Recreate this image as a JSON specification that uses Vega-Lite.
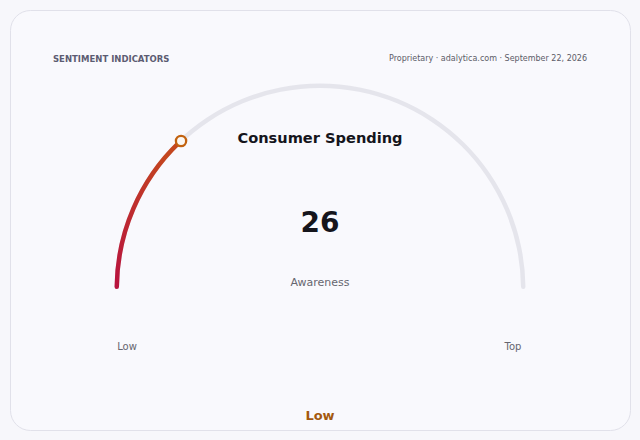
{
  "$schema": "https://vega.github.io/schema/vega-lite/v6.json",
  "width": 620,
  "height": 420,
  "padding": 10,
  "autosize": "none",
  "background": "#f7f7fb",
  "config": {
    "view": {"fill": "#f9f9fd", "stroke": "#e1e1ea", "strokeWidth": 1, "cornerRadius": 20},
    "font": "DejaVu Sans",
    "text": {"dy": 1.5}
  },
  "data": {"values": [{"value": 26, "min": 0, "max": 100, "metric": "Awareness", "name": "Consumer Spending", "band": "Low", "lowLabel": "Low", "highLabel": "Top", "section": "SENTIMENT INDICATORS", "source": "Proprietary · adalytica.com · September 22, 2026"}]},
  "resolve": {"scale": {"x": "shared", "y": "shared"}},
  "layer": [
    {
      "mark": {"type": "arc", "innerRadius": 201, "outerRadius": 205.5, "cornerRadius": 2.2, "color": "#e5e5ec"},
      "encoding": {
        "x": {"datum": 0, "type": "quantitative", "scale": {"domain": [-1.5271, 1.5271], "nice": false, "zero": false}, "axis": null},
        "y": {"datum": 0, "type": "quantitative", "scale": {"domain": [-0.6946, 1.3744], "nice": false, "zero": false}, "axis": null},
        "theta": {"field": "min", "type": "quantitative", "scale": {"domain": [0, 100], "range": [-1.5708, 1.5708]}},
        "theta2": {"field": "max"}
      }
    },
    {
      "mark": {
        "type": "arc", "innerRadius": 201, "outerRadius": 205.5, "cornerRadius": 2.2,
        "color": {"gradient": "linear", "x1": 0, "y1": 1, "x2": 0.6, "y2": 0, "stops": [{"offset": 0, "color": "#b8123f"}, {"offset": 1, "color": "#c4461f"}]}
      },
      "encoding": {
        "x": {"datum": 0, "type": "quantitative"},
        "y": {"datum": 0, "type": "quantitative"},
        "theta": {"field": "min", "type": "quantitative"},
        "theta2": {"field": "value"}
      }
    },
    {
      "transform": [
        {"calculate": "-cos(datum.value / 100 * PI)", "as": "px"},
        {"calculate": "sin(datum.value / 100 * PI)", "as": "py"}
      ],
      "mark": {"type": "point", "shape": "circle", "size": 105, "filled": true, "fill": "#fbf7f2", "stroke": "#c2620f", "strokeWidth": 2.3, "opacity": 1},
      "encoding": {
        "x": {"field": "px", "type": "quantitative"},
        "y": {"field": "py", "type": "quantitative"}
      }
    },
    {
      "mark": {"type": "text", "fontSize": 14.6, "fontWeight": "bold", "color": "#15151c", "baseline": "middle"},
      "encoding": {"x": {"datum": 0, "type": "quantitative"}, "y": {"datum": 0.7487, "type": "quantitative"}, "text": {"field": "name"}}
    },
    {
      "mark": {"type": "text", "fontSize": 28, "fontWeight": "bold", "color": "#15151c", "baseline": "middle"},
      "encoding": {"x": {"datum": 0, "type": "quantitative"}, "y": {"datum": 0.326, "type": "quantitative"}, "text": {"field": "value"}}
    },
    {
      "mark": {"type": "text", "fontSize": 11, "color": "#66666f", "baseline": "middle"},
      "encoding": {"x": {"datum": 0, "type": "quantitative"}, "y": {"datum": 0.0394, "type": "quantitative"}, "text": {"field": "metric"}}
    },
    {
      "mark": {"type": "text", "fontSize": 10, "color": "#66666f", "baseline": "middle"},
      "encoding": {"x": {"datum": -0.9507, "type": "quantitative"}, "y": {"datum": -0.2759, "type": "quantitative"}, "text": {"field": "lowLabel"}}
    },
    {
      "mark": {"type": "text", "fontSize": 10, "color": "#66666f", "baseline": "middle"},
      "encoding": {"x": {"datum": 0.9507, "type": "quantitative"}, "y": {"datum": -0.2759, "type": "quantitative"}, "text": {"field": "highLabel"}}
    },
    {
      "mark": {"type": "text", "fontSize": 13, "fontWeight": "bold", "color": "#a4590f", "baseline": "middle"},
      "encoding": {"x": {"datum": 0, "type": "quantitative"}, "y": {"datum": -0.6158, "type": "quantitative"}, "text": {"field": "band"}}
    },
    {
      "mark": {"type": "text", "fontSize": 8.5, "fontWeight": "bold", "color": "#5c5c72", "baseline": "middle", "align": "left", "letterSpacing": 0.3},
      "encoding": {"x": {"datum": -1.3153, "type": "quantitative"}, "y": {"datum": 1.1428, "type": "quantitative"}, "text": {"field": "section"}}
    },
    {
      "mark": {"type": "text", "fontSize": 8, "color": "#5c5c68", "baseline": "middle", "align": "right"},
      "encoding": {"x": {"datum": 1.3153, "type": "quantitative"}, "y": {"datum": 1.1428, "type": "quantitative"}, "text": {"field": "source"}}
    }
  ]
}
